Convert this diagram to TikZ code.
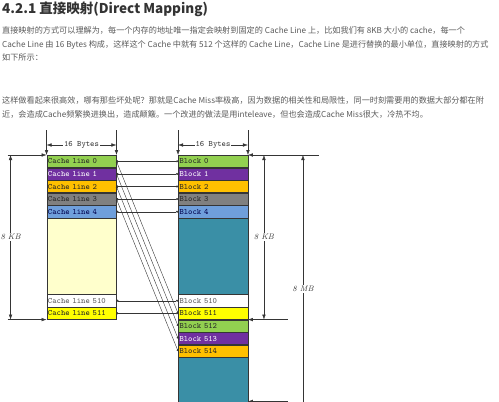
\documentclass[tikz,border=0pt]{standalone}
\usepackage{fontspec}
\newfontfamily\cjk{Noto Sans CJK SC}
\usetikzlibrary{arrows.meta,positioning}
\definecolor{cgreen}{HTML}{92D050}
\definecolor{cpurple}{HTML}{7030A0}
\definecolor{corange}{HTML}{FFC000}
\definecolor{cgray}{HTML}{808080}
\definecolor{cblue}{HTML}{6F9FDB}
\definecolor{cyellow}{HTML}{FFFF00}
\definecolor{cpale}{HTML}{FFFFCC}
\definecolor{cteal}{HTML}{3A8FA6}
\definecolor{ink}{HTML}{353535}
\definecolor{txtgray}{HTML}{5A5A5A}
\tikzset{
  % one line of the cache / one block of memory
  row/.style    = {rectangle, draw=ink, fill=#1, thin, anchor=north, minimum width=69.5pt,
                   minimum height=12.2pt, text width=67pt, inner xsep=1pt, inner ysep=0pt,
                   align=left, font=\ttfamily\fontsize{8.2}{8}\selectfont, text=black!85},
  row/.default  = white,
  dim/.style    = {<->, ink, thin},
  ext/.style    = {->, ink, thin},
  link/.style   = {{Circle[length=2pt]}-{Circle[length=2pt]}, ink, thin},
  dimlbl/.style = {fill=white, inner sep=1pt, font=\ttfamily\fontsize{8.2}{8}\selectfont, text=ink},
  sizelbl/.style= {fill=white, inner sep=1pt, font=\itshape\fontsize{8}{8}\selectfont, text=ink},
  para/.style   = {anchor=north west, align=left, inner sep=0pt, text=txtgray,
                   font=\cjk\fontsize{8.15}{13.4}\selectfont},
}
\begin{document}
\begin{tikzpicture}[x=1pt,y=-1pt, >={Latex[length=5pt,width=3.5pt]}]
\useasboundingbox[fill=white] (0,0) rectangle (499,402);
% text above the picture
\node[anchor=west, inner sep=0pt, text=black!80,
      font=\cjk\bfseries\fontsize{13.5}{15}\selectfont] (head) at (2,9) {4.2.1 直接映射(Direct Mapping)};
\node[para] (para1) at (2,26.5) {直接映射的方式可以理解为，每一个内存的地址唯一指定会映射到固定的 Cache Line 上，比如我们有 8KB 大小的 cache，每一个\\
Cache Line 由 16 Bytes 构成，这样这个 Cache 中就有 512 个这样的 Cache Line，Cache Line 是进行替换的最小单位，直接映射的方式\\
如下所示：};
\node[para] (para2) at (2,96.5) {这样做看起来很高效，哪有那些坏处呢？那就是Cache Miss率极高，因为数据的相关性和局限性，同一时刻需要用的数据大部分都在附\\
近，会造成Cache频繁换进换出，造成颠簸。一个改进的做法是用inteleave，但也会造成Cache Miss很大，冷热不均。};

% cache
\node[row=cgreen]  (c0) at (81.5,155) {Cache line 0};
\node[row=cpurple, text=white] (c1) at (c0.south) {Cache line 1};
\node[row=corange] (c2) at (c1.south) {Cache line 2};
\node[row=cgray]   (c3) at (c2.south) {Cache line 3};
\node[row=cblue, text=blue!30!black] (c4) at (c3.south) {Cache line 4};
\node[row=cpale, minimum height=76pt] (cgap) at (c4.south) {};
\node[row, text=black!65] (c510) at (cgap.south) {Cache line 510};
\node[row=cyellow] (c511) at (c510.south) {Cache line 511};

% memory
\node[row=cgreen]  (b0) at (213,155) {Block 0};
\node[row=cpurple, text=white] (b1) at (b0.south) {Block 1};
\node[row=corange] (b2) at (b1.south) {Block 2};
\node[row=cgray]   (b3) at (b2.south) {Block 3};
\node[row=cblue, text=blue!30!black] (b4) at (b3.south) {Block 4};
\node[row=cteal, minimum height=76pt] (bgap) at (b4.south) {};
\node[row, text=black!65] (b510) at (bgap.south) {Block 510};
\node[row=cyellow] (b511) at (b510.south) {Block 511};
\node[row=cgreen]  (b512) at (b511.south) {Block 512};
\node[row=cpurple, text=white] (b513) at (b512.south) {Block 513};
\node[row=corange] (b514) at (b513.south) {Block 514};
\node[row=cteal, minimum height=70pt] (bend) at (b514.south) {};

% mapping
\draw[link] (c0.east) -- (b0.west);
\draw[link] (c1.east) -- (b1.west);
\draw[link] (c2.east) -- (b2.west);
\draw[link] (c3.east) -- (b3.west);
\draw[link] (c4.east) -- (b4.west);
\draw[link] (c510.east) -- (b510.west);
\draw[link] (c511.east) -- (b511.west);
\draw[link] (c0.east) -- (b511.west);
\draw[link] (c1.east) -- (b512.west);
\draw[link] (c2.east) -- (b513.west);
\draw[link] (c3.east) -- (b514.west);

% dimensions
\draw[ext] ([yshift=25pt]c0.north west) -- (c0.north west);
\draw[ext] ([yshift=25pt]c0.north east) -- (c0.north east);
\draw[dim] ([yshift=10pt]c0.north west) -- node[dimlbl] {16 Bytes} ([yshift=10pt]c0.north east);
\draw[ext] ([xshift=-39pt]c0.north west) -- (c0.north west);
\draw[ext] ([xshift=-39pt]c511.south west) -- (c511.south west);
\draw[dim] ([xshift=-36pt]c0.north west) -- node[sizelbl] {8 KB} ([xshift=-36pt]c511.south west);

\draw[ext] ([yshift=25pt]b0.north west) -- (b0.north west);
\draw[ext] ([yshift=25pt]b0.north east) -- (b0.north east);
\draw[dim] ([yshift=10pt]b0.north west) -- node[dimlbl] {16 Bytes} ([yshift=10pt]b0.north east);
\draw[ext] ([xshift=71pt]b0.north east) -- (b0.north east);
\draw[ext] ([xshift=40pt]b511.south east) -- (b511.south east);
\draw[ext] ([xshift=40pt,yshift=-44pt]b514.south east) -- ([yshift=-44pt]b514.south east);
\draw[dim] ([xshift=16pt]b0.north east) -- node[sizelbl] {8 KB} ([xshift=16pt]b511.south east);
\draw[dim] ([xshift=55pt]b0.north east) -- node[sizelbl] {8 MB} ([xshift=55pt,yshift=-66pt]b514.south east);
\end{tikzpicture}
\end{document}
